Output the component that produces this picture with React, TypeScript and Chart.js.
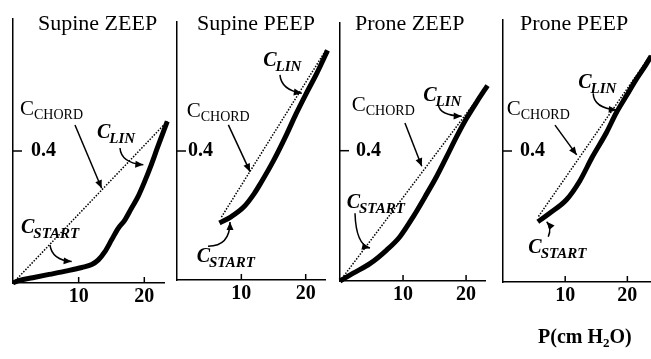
import React, { useEffect, useRef } from 'react';
import { Chart, registerables } from 'chart.js';

Chart.register(...registerables);

// ---------- DATA ----------
const panelTitles = ['Supine ZEEP', 'Supine PEEP', 'Prone ZEEP', 'Prone PEEP'];
const xTickValues = [10, 20];
const yTickValues = [0.4];
const axisTitleParts = ['P(cm H', '2', 'O)'];

// thick pressure-volume curves (P in cm H2O, V in L)
const supineZeepPressure = [0, 1, 3, 5.5, 8, 10.5, 12, 13, 14, 15, 16, 17, 18, 19, 20, 21, 22, 23.5];
const supineZeepVolume = [0, 0.008, 0.016, 0.026, 0.036, 0.047, 0.056, 0.07, 0.095, 0.13, 0.165, 0.19, 0.225, 0.26, 0.305, 0.355, 0.41, 0.49];

const supinePeepPressure = [6.6, 8.4, 10.4, 12, 13, 15, 17, 18.5, 20, 21.7, 23.4];
const supinePeepVolume = [0.177, 0.196, 0.227, 0.268, 0.3, 0.37, 0.45, 0.515, 0.575, 0.64, 0.712];

const proneZeepPressure = [0, 2.1, 4.8, 7.4, 9.5, 11.6, 13.8, 15.3, 16.9, 18.5, 20.1, 21.7, 23.4];
const proneZeepVolume = [0, 0.024, 0.054, 0.095, 0.136, 0.197, 0.269, 0.32, 0.381, 0.443, 0.5, 0.55, 0.6];

const pronePeepPressure = [5.6, 7.5, 10.2, 12.3, 14.4, 16.6, 18.2, 19.8, 21.4, 23, 23.8];
const pronePeepVolume = [0.184, 0.21, 0.251, 0.307, 0.383, 0.455, 0.516, 0.567, 0.618, 0.664, 0.689];

// dotted chords (start / end of the inflation)
const supineZeepChordP = [0, 23.5];
const supineZeepChordV = [0, 0.49];
const supinePeepChordP = [6.9, 23.2];
const supinePeepChordV = [0.195, 0.715];
const proneZeepChordP = [0, 23.4];
const proneZeepChordV = [0, 0.6];
const pronePeepChordP = [5.7, 23.8];
const pronePeepChordV = [0.2, 0.695];

// annotation labels with arrows, in data units
type Note = { sub: string; at: number[]; from: number[]; bend?: number[]; to: number[] };
const supineZeepNotes: Note[] = [
  { sub: 'CHORD', at: [1.07, 0.509], from: [9.44, 0.479], to: [13.5, 0.287] },
  { sub: 'LIN', at: [12.8, 0.439], from: [16.3, 0.409], bend: [16.45, 0.364], to: [19.85, 0.358] },
  { sub: 'START', at: [1.22, 0.152], from: [5.64, 0.115], bend: [5.94, 0.07], to: [8.94, 0.065] },
];
const supinePeepNotes: Note[] = [
  { sub: 'CHORD', at: [1.51, 0.506], from: [7.98, 0.481], to: [11.35, 0.336] },
  { sub: 'LIN', at: [13.4, 0.664], from: [16.0, 0.636], bend: [16.2, 0.589], to: [19.4, 0.579] },
  { sub: 'START', at: [3.06, 0.057], from: [4.82, 0.105], bend: [8.24, 0.105], to: [8.24, 0.18] },
];
const proneZeepNotes: Note[] = [
  { sub: 'CHORD', at: [1.86, 0.521], from: [10.3, 0.485], to: [12.97, 0.352] },
  { sub: 'LIN', at: [13.2, 0.552], from: [15.6, 0.542], bend: [15.76, 0.508], to: [19.3, 0.506] },
  { sub: 'START', at: [1.06, 0.225], from: [2.38, 0.208], bend: [2.54, 0.111], to: [4.76, 0.101] },
];
const pronePeepNotes: Note[] = [
  { sub: 'CHORD', at: [0.6, 0.51], from: [8.36, 0.479], to: [11.85, 0.388] },
  { sub: 'LIN', at: [12.1, 0.591], from: [14.5, 0.576], bend: [14.6, 0.531], to: [18.3, 0.525] },
  { sub: 'START', at: [4.07, 0.088], from: [7.28, 0.138], bend: [7.88, 0.165], to: [7.03, 0.184] },
];

const curvesP = [supineZeepPressure, supinePeepPressure, proneZeepPressure, pronePeepPressure];
const curvesV = [supineZeepVolume, supinePeepVolume, proneZeepVolume, pronePeepVolume];
const chordsP = [supineZeepChordP, supinePeepChordP, proneZeepChordP, pronePeepChordP];
const chordsV = [supineZeepChordV, supinePeepChordV, proneZeepChordV, pronePeepChordV];
const notes = [supineZeepNotes, supinePeepNotes, proneZeepNotes, pronePeepNotes];

// ---------- LAYOUT ----------
const W = 651;
const H = 359;
const panelLayouts = [
  { left: 13, right: 164, top: 19, bottom: 283, xMax: 23, yMax: 0.8, yLabelGap: 18, titleGap: 25 },
  { left: 177, right: 325, top: 22, bottom: 280, xMax: 23, yMax: 0.8, yLabelGap: 11, titleGap: 20 },
  { left: 340, right: 485, top: 23, bottom: 281, xMax: 23, yMax: 0.792, yLabelGap: 16, titleGap: 15 },
  { left: 503, right: 651, top: 20, bottom: 282, xMax: 23.8, yMax: 0.8, yLabelGap: 17, titleGap: 17 },
];
const SERIF = '"Liberation Serif", "Times New Roman", serif';

function zip(p: number[], v: number[]) {
  return p.map((x, i) => ({ x, y: v[i] }));
}

function drawArrow(ctx: CanvasRenderingContext2D, s: number[], c: number[], e: number[]) {
  ctx.beginPath();
  ctx.moveTo(s[0], s[1]);
  ctx.quadraticCurveTo(c[0], c[1], e[0], e[1]);
  ctx.lineWidth = 1.5;
  ctx.stroke();
  const ang = Math.atan2(e[1] - c[1], e[0] - c[0]);
  const L = 8;
  const Wd = 3.5;
  const cos = Math.cos(ang);
  const sin = Math.sin(ang);
  ctx.beginPath();
  ctx.moveTo(e[0], e[1]);
  ctx.lineTo(e[0] - L * cos + Wd * sin, e[1] - L * sin - Wd * cos);
  ctx.lineTo(e[0] - L * cos - Wd * sin, e[1] - L * sin + Wd * cos);
  ctx.closePath();
  ctx.fill();
}

function makeDeco(idx: number) {
  const lay = panelLayouts[idx];
  return {
    id: 'deco' + idx,
    afterDraw(chart: any) {
      const { ctx, chartArea } = chart;
      const xs = chart.scales.x;
      const ys = chart.scales.y;
      ctx.save();
      ctx.strokeStyle = '#000';
      ctx.fillStyle = '#000';
      ctx.lineCap = 'butt';
      // inner tick marks
      ctx.lineWidth = 1.5;
      xTickValues.forEach((v) => {
        const px = xs.getPixelForValue(v);
        ctx.beginPath();
        ctx.moveTo(px, chartArea.bottom);
        ctx.lineTo(px, chartArea.bottom - 6);
        ctx.stroke();
      });
      yTickValues.forEach((v) => {
        const py = ys.getPixelForValue(v);
        ctx.beginPath();
        ctx.moveTo(chartArea.left, py);
        ctx.lineTo(chartArea.left + 9, py);
        ctx.stroke();
      });
      // title
      ctx.textBaseline = 'alphabetic';
      ctx.textAlign = 'left';
      ctx.font = `22px ${SERIF}`;
      ctx.fillText(panelTitles[idx], chartArea.left + lay.titleGap, 30);
      // annotations
      notes[idx].forEach((n) => {
        const tx = xs.getPixelForValue(n.at[0]);
        const ty = ys.getPixelForValue(n.at[1]);
        if (n.sub === 'CHORD') {
          ctx.font = `21px ${SERIF}`;
          ctx.fillText('C', tx, ty);
          const w = ctx.measureText('C').width;
          ctx.font = `14px ${SERIF}`;
          ctx.fillText(n.sub, tx + w, ty + 4);
        } else {
          ctx.font = `italic bold 20px ${SERIF}`;
          ctx.fillText('C', tx, ty);
          const w = ctx.measureText('C').width;
          ctx.font = `italic bold 15px ${SERIF}`;
          ctx.fillText(n.sub, tx + w - 1, ty + 5);
        }
        const s = [xs.getPixelForValue(n.from[0]), ys.getPixelForValue(n.from[1])];
        const e = [xs.getPixelForValue(n.to[0]), ys.getPixelForValue(n.to[1])];
        const c = n.bend
          ? [xs.getPixelForValue(n.bend[0]), ys.getPixelForValue(n.bend[1])]
          : [(s[0] + e[0]) / 2, (s[1] + e[1]) / 2];
        drawArrow(ctx, s, c, e);
      });
      // shared axis title
      if (idx === panelLayouts.length - 1) {
        let x = 538;
        const base = 343;
        ctx.font = `bold 20px ${SERIF}`;
        ctx.fillText(axisTitleParts[0], x, base);
        x += ctx.measureText(axisTitleParts[0]).width;
        ctx.font = `bold 13px ${SERIF}`;
        ctx.fillText(axisTitleParts[1], x, base + 4);
        x += ctx.measureText(axisTitleParts[1]).width;
        ctx.font = `bold 20px ${SERIF}`;
        ctx.fillText(axisTitleParts[2], x, base);
      }
      ctx.restore();
    },
  };
}

function buildConfig(idx: number): any {
  const lay = panelLayouts[idx];
  const tickFont = { family: SERIF, size: 20, weight: 'bold' as const };
  const noPad = (s: any) => {
    s.paddingTop = 0;
    s.paddingBottom = 0;
    s.paddingLeft = 0;
    s.paddingRight = 0;
  };
  return {
    type: 'line',
    data: {
      datasets: [
        {
          data: zip(curvesP[idx], curvesV[idx]),
          borderColor: '#000',
          borderWidth: 5,
          pointRadius: 0,
          cubicInterpolationMode: 'monotone',
          borderCapStyle: 'butt',
          clip: false,
        },
        {
          data: zip(chordsP[idx], chordsV[idx]),
          borderColor: '#000',
          borderWidth: 1.5,
          borderDash: [1.5, 1.5],
          pointRadius: 0,
          clip: false,
        },
      ],
    },
    options: {
      responsive: false,
      animation: false,
      devicePixelRatio: 1,
      events: [],
      layout: { padding: { left: lay.left, right: W - lay.right, top: lay.top, bottom: 0 } },
      plugins: { legend: { display: false }, tooltip: { enabled: false }, title: { display: false } },
      scales: {
        x: {
          type: 'linear',
          min: 0,
          max: lay.xMax,
          afterBuildTicks: (s: any) => {
            s.ticks = xTickValues.map((value) => ({ value }));
          },
          afterFit: (s: any) => {
            s.height = H - lay.bottom;
            noPad(s);
          },
          grid: { display: false, drawTicks: false },
          border: { display: true, color: '#000', width: 1.5 },
          ticks: { font: tickFont, color: '#000', padding: 2, maxRotation: 0, autoSkip: false, callback: (v: any) => String(v) },
        },
        y: {
          type: 'linear',
          min: 0,
          max: lay.yMax,
          afterBuildTicks: (s: any) => {
            s.ticks = yTickValues.map((value) => ({ value }));
          },
          afterFit: (s: any) => {
            s.width = 0;
            noPad(s);
          },
          grid: { display: false, drawTicks: false },
          border: { display: true, color: '#000', width: 1.5 },
          ticks: { font: tickFont, color: '#000', mirror: true, padding: lay.yLabelGap, callback: (v: any) => Number(v).toFixed(1) },
        },
      },
    },
    plugins: [makeDeco(idx)],
  };
}

function Panel({ idx }: { idx: number }) {
  const ref = useRef<HTMLCanvasElement>(null);
  useEffect(() => {
    const chart = new Chart(ref.current as HTMLCanvasElement, buildConfig(idx));
    return () => chart.destroy();
  }, [idx]);
  return (
    <canvas
      ref={ref}
      width={W}
      height={H}
      style={{ position: 'absolute', left: 0, top: 0, width: W, height: H }}
    />
  );
}

export default function App() {
  return (
    <div style={{ position: 'fixed', left: 0, top: 0, width: W, height: H, background: '#fff', overflow: 'hidden' }}>
      {panelTitles.map((t, i) => (
        <Panel key={t} idx={i} />
      ))}
    </div>
  );
}
